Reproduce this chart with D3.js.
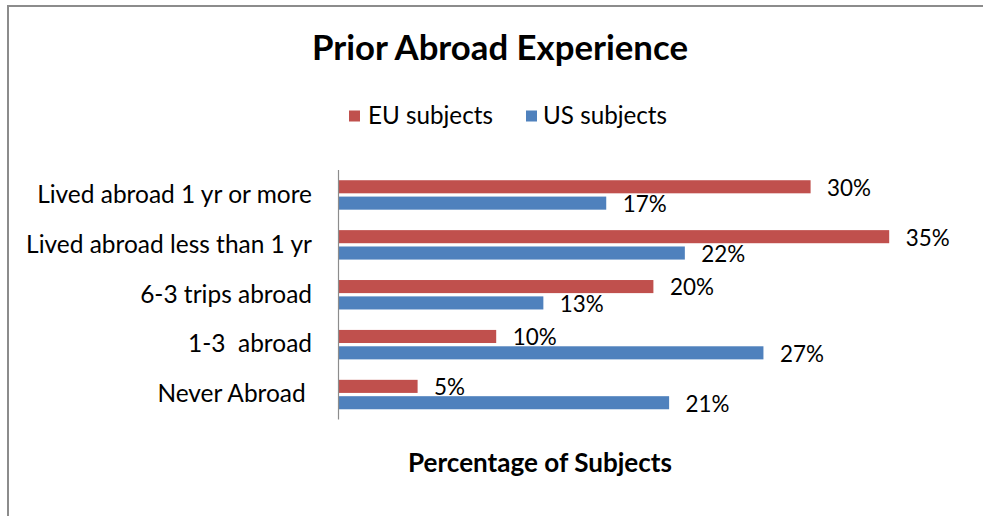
<!DOCTYPE html>
<html>
<head>
<meta charset="utf-8">
<script src="https://cdn.jsdelivr.net/npm/d3@7"></script>
<style>
body { margin: 0; background: #fff; }
text { font-family: Lato, "Open Sans", sans-serif; fill: #000; }
</style>
</head>
<body>
<script>
var kategorie = ["Lived abroad 1 yr or more", "Lived abroad less than 1 yr", "6-3 trips abroad", "1-3  abroad", "Never Abroad "]
var serie = ["EU subjects", "US subjects"]
var wartosciEU = [30, 35, 20, 10, 5]
var wartosciUS = [17, 22, 13, 27, 21]
var kolory = ["#C0504D", "#4F81BD"]

var dane = kategorie.map(function(k, i) {
  return {kat: k, wart: [wartosciEU[i], wartosciUS[i]]}
})

var svg = d3.select("body").append("svg")
  .attr("width", 983)
  .attr("height", 516)

// ramka wykresu
svg.append("rect")
  .attr("x", 8).attr("y", 6)
  .attr("width", 1100).attr("height", 700)
  .attr("fill", "none")
  .attr("stroke", "#8c8c8c")
  .attr("stroke-width", 2)

// dopasowanie rozmiaru czcionki do szerokosci
function dopasuj(sel, szer) {
  sel.style("font-size", "20px")
  var w = sel.node().getComputedTextLength()
  var rozm = 20 * szer / w
  sel.style("font-size", rozm + "px")
  return rozm
}

var x = d3.scaleLinear().domain([0, 40]).range([339, 339 + 40 * 15.72])
var y0 = d3.scaleBand().domain(kategorie).range([170, 419.5])
  .paddingInner(0.41).paddingOuter(0.205)
var y1 = d3.scaleBand().domain([0, 1]).range([0, y0.bandwidth()]).paddingInner(0.2)

// tytul
var tytul = svg.append("text")
  .attr("x", 500).attr("y", 48)
  .attr("text-anchor", "middle")
  .attr("dy", "0.35em")
  .style("font-weight", "bold")
  .text("Prior Abroad Experience")
dopasuj(tytul, 376)

// legenda
var legX = [[349, 368], [526, 543]]
var rozmLeg = 20
serie.forEach(function(s, i) {
  svg.append("rect")
    .attr("x", legX[i][0]).attr("y", 110.5)
    .attr("width", 11).attr("height", 11)
    .attr("fill", kolory[i])
  var t = svg.append("text")
    .attr("x", legX[i][1]).attr("y", 116)
    .attr("dy", "0.35em")
    .text(s)
  if (i === 0) rozmLeg = dopasuj(t, 125)
  else t.style("font-size", rozmLeg + "px")
})

// slupki
var grupy = svg.selectAll("g.grupa").data(dane).enter().append("g")
  .attr("class", "grupa")
  .attr("transform", function(d) { return "translate(0," + y0(d.kat) + ")" })

grupy.selectAll("rect").data(function(d) { return d.wart }).enter().append("rect")
  .attr("x", x(0))
  .attr("y", function(d, i) { return y1(i) })
  .attr("width", function(d) { return x(d) - x(0) })
  .attr("height", y1.bandwidth())
  .attr("fill", function(d, i) { return kolory[i] })

var etykiety = grupy.selectAll("text").data(function(d) { return d.wart }).enter().append("text")
  .attr("x", function(d) { return x(d) + 16.5 })
  .attr("y", function(d, i) { return y1(i) + y1.bandwidth() / 2 + 1 })
  .attr("dy", "0.35em")
  .text(function(d) { return d + "%" })
var rozmEt = dopasuj(d3.select(etykiety.nodes()[0]), 44)
etykiety.style("font-size", rozmEt + "px")

// os pionowa i etykiety kategorii
var os = svg.append("g")
  .attr("transform", "translate(338.5,0)")
  .call(d3.axisLeft(y0).tickSize(0).tickPadding(26.5))
os.select(".domain").attr("stroke", "#8c8c8c").attr("stroke-width", 1.2)
  .attr("d", "M0,170V419.5")
os.selectAll("text")
  .style("font-family", "Lato, 'Open Sans', sans-serif")
  .style("white-space", "pre")
  .attr("fill", "#000")
var rozmKat = dopasuj(d3.select(os.selectAll("text").nodes()[0]), 275)
os.selectAll("text").style("font-size", rozmKat + "px")

// tytul osi
var tytulOsi = svg.append("text")
  .attr("x", 540).attr("y", 463)
  .attr("text-anchor", "middle")
  .attr("dy", "0.35em")
  .style("font-weight", "bold")
  .text("Percentage of Subjects")
dopasuj(tytulOsi, 264)
</script>
</body>
</html>
